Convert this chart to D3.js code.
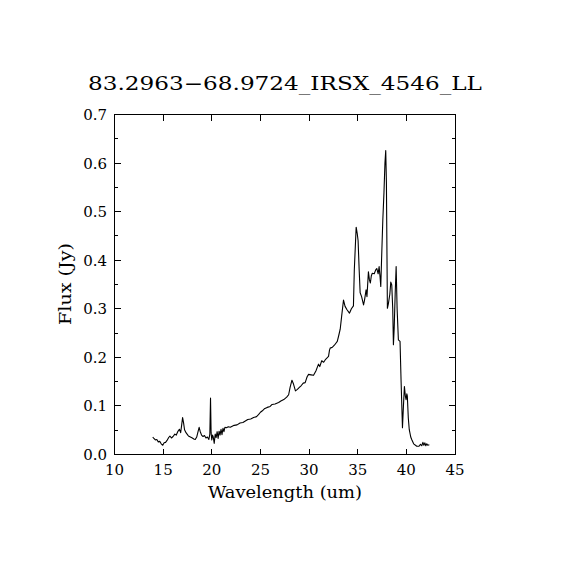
<!DOCTYPE html>
<html><head><meta charset="utf-8">
<script src="https://cdn.jsdelivr.net/npm/d3@7"></script>
<style>body{margin:0;background:#fff}svg{display:block}</style>
</head><body>
<script>
const titleText = "83.2963\u221268.9724_IRSX_4546_LL";
const xLabel = "Wavelength (um)";
const yLabel = "Flux (Jy)";
const xTicks = [10,15,20,25,30,35,40,45];
const yTicks = [0,0.1,0.2,0.3,0.4,0.5,0.6,0.7];
const yMinorTicks = [0.05,0.15,0.25,0.35,0.45,0.55,0.65];
const wavelength = [13.93,14.05,14.2,14.35,14.5,14.65,14.8,14.96,15.1,15.25,15.4,15.57,15.7,15.85,16.02,16.2,16.35,16.5,16.67,16.8,16.9,17.0,17.1,17.2,17.35,17.5,17.6,17.8,18.0,18.15,18.3,18.45,18.6,18.7,18.8,18.95,19.1,19.25,19.4,19.55,19.7,19.8,19.87,19.93,20.0,20.08,20.15,20.25,20.35,20.45,20.55,20.65,20.75,20.85,20.95,21.05,21.15,21.25,21.35,21.5,21.7,21.9,22.1,22.3,22.6,22.9,23.2,23.45,23.7,24.0,24.3,24.6,24.8,25.0,25.2,25.4,25.7,26.0,26.2,26.5,26.87,27.1,27.4,27.7,27.9,28.05,28.24,28.4,28.6,28.8,29.0,29.2,29.4,29.6,29.8,29.95,30.2,30.46,30.7,30.97,31.1,31.3,31.5,31.7,32.0,32.1,32.17,32.4,32.6,32.9,33.05,33.2,33.35,33.54,33.7,33.9,34.15,34.35,34.56,34.65,34.84,34.95,35.04,35.15,35.25,35.4,35.6,35.7,35.86,35.95,36.1,36.2,36.3,36.4,36.5,36.7,36.85,36.96,37.1,37.2,37.3,37.37,37.45,37.58,37.7,37.8,37.88,37.95,38.05,38.15,38.3,38.4,38.5,38.6,38.67,38.75,38.85,38.95,39.05,39.18,39.35,39.46,39.6,39.7,39.8,39.9,39.97,40.05,40.1,40.2,40.3,40.45,40.55,40.75,41.07,41.3,41.45,41.58,41.7,41.8,41.9,42.0,42.1,42.2,42.36];
const flux = [0.036,0.033,0.030,0.031,0.026,0.027,0.022,0.019,0.024,0.025,0.029,0.035,0.038,0.034,0.037,0.042,0.040,0.047,0.052,0.045,0.060,0.076,0.065,0.051,0.045,0.041,0.038,0.036,0.034,0.032,0.031,0.036,0.048,0.056,0.048,0.040,0.037,0.039,0.034,0.036,0.031,0.042,0.116,0.045,0.030,0.040,0.036,0.023,0.042,0.035,0.047,0.033,0.048,0.040,0.052,0.041,0.054,0.047,0.056,0.055,0.057,0.056,0.058,0.060,0.061,0.065,0.066,0.069,0.072,0.073,0.076,0.078,0.082,0.087,0.090,0.094,0.097,0.099,0.103,0.104,0.107,0.110,0.113,0.118,0.123,0.138,0.153,0.145,0.131,0.134,0.138,0.142,0.147,0.148,0.160,0.165,0.164,0.163,0.172,0.186,0.181,0.193,0.190,0.196,0.202,0.215,0.219,0.221,0.225,0.233,0.245,0.258,0.285,0.318,0.305,0.298,0.291,0.300,0.306,0.380,0.468,0.455,0.440,0.380,0.333,0.325,0.308,0.318,0.339,0.325,0.376,0.360,0.353,0.368,0.373,0.372,0.380,0.383,0.372,0.387,0.365,0.346,0.400,0.483,0.540,0.600,0.626,0.560,0.301,0.310,0.330,0.355,0.349,0.300,0.226,0.260,0.330,0.387,0.300,0.236,0.233,0.150,0.055,0.100,0.140,0.120,0.113,0.125,0.120,0.075,0.051,0.036,0.031,0.022,0.017,0.017,0.021,0.018,0.025,0.019,0.024,0.018,0.022,0.019,0.020];

const W = 570, H = 570;
const L = 114.5, R = 455, T = 114.5, B = 454.5;
const font = "'DejaVu Serif', serif";
const svg = d3.select("body").append("svg").attr("width", W).attr("height", H);
const x = d3.scaleLinear().domain([10,45]).range([L,R]);
const y = d3.scaleLinear().domain([0,0.7]).range([B,T]);

const g = svg.append("g").attr("stroke","#000").attr("fill","none").attr("stroke-width",1)
  .attr("shape-rendering","crispEdges");
xTicks.forEach(v => {
  g.append("line").attr("x1",x(v)).attr("x2",x(v)).attr("y1",B).attr("y2",B-6);
  g.append("line").attr("x1",x(v)).attr("x2",x(v)).attr("y1",T).attr("y2",T+6);
});
yTicks.forEach(v => {
  g.append("line").attr("x1",L).attr("x2",L+6).attr("y1",y(v)).attr("y2",y(v));
  g.append("line").attr("x1",R).attr("x2",R-6).attr("y1",y(v)).attr("y2",y(v));
});
yMinorTicks.forEach(v => {
  g.append("line").attr("x1",L).attr("x2",L+3).attr("y1",y(v)).attr("y2",y(v));
  g.append("line").attr("x1",R).attr("x2",R-3).attr("y1",y(v)).attr("y2",y(v));
});
g.append("rect").attr("x",L).attr("y",T).attr("width",R-L).attr("height",B-T);

const line = d3.line().x((d,i)=>x(wavelength[i])).y(d=>y(d));
svg.append("path").datum(flux).attr("d",line).attr("fill","none").attr("stroke","#000")
  .attr("stroke-width",1.1).attr("stroke-linejoin","round");

const txt = svg.append("g").attr("font-family",font).attr("fill","#000");
xTicks.forEach(v => {
  txt.append("text").attr("x",x(v)).attr("y",475).attr("text-anchor","middle").attr("font-size",15).text(String(v));
});
yTicks.forEach(v => {
  txt.append("text").attr("x",107).attr("y",y(v)+5.5).attr("text-anchor","end").attr("font-size",15).text(v.toFixed(1));
});
txt.append("text").attr("x",285).attr("y",90).attr("text-anchor","middle").attr("font-size",19)
  .attr("textLength",394).attr("lengthAdjust","spacingAndGlyphs").text(titleText);
txt.append("text").attr("x",285).attr("y",498).attr("text-anchor","middle").attr("font-size",16)
  .attr("textLength",154).attr("lengthAdjust","spacingAndGlyphs").text(xLabel);
txt.append("text").attr("transform","translate(71,284) rotate(-90)").attr("text-anchor","middle").attr("font-size",16)
  .attr("textLength",82).attr("lengthAdjust","spacingAndGlyphs").text(yLabel);
</script>
</body></html>
